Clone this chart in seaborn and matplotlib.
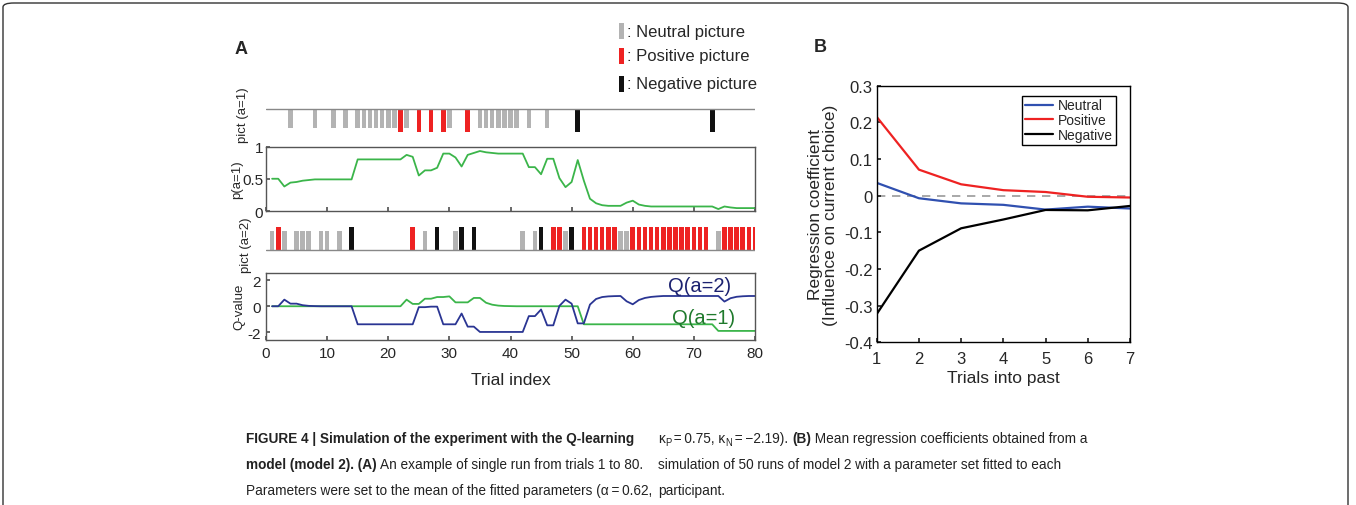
import numpy as np
import pandas as pd
import matplotlib
matplotlib.use("Agg")
import matplotlib.pyplot as plt
from matplotlib.patches import Rectangle, FancyBboxPatch
import seaborn as sns

#########################
## data
trials = list(range(1, 81))

# trials where a=1 / a=2 was chosen and the picture shown (N=neutral, P=positive, K=negative)
pict_a1_trials = [4, 8, 11, 13, 15, 16, 17, 18, 19, 20, 21, 22, 23, 25, 27, 29, 30, 33,
                  35, 36, 37, 38, 39, 40, 41, 43, 46, 51, 73]
pict_a1_kind = ['N', 'N', 'N', 'N', 'N', 'N', 'N', 'N', 'N', 'N', 'N', 'P', 'N', 'P', 'P', 'P', 'N', 'P',
                'N', 'N', 'N', 'N', 'N', 'N', 'N', 'N', 'N', 'K', 'K']

pict_a2_trials = [1, 2, 3, 5, 6, 7, 9, 10, 12, 14, 24, 26, 28, 31, 32, 34, 42, 44, 45, 47, 48, 49, 50,
                  52, 53, 54, 55, 56, 57, 58, 59, 60, 61, 62, 63, 64, 65, 66, 67, 68, 69, 70, 71, 72,
                  74, 75, 76, 77, 78, 79, 80]
pict_a2_kind = ['N', 'P', 'N', 'N', 'N', 'N', 'N', 'N', 'N', 'K', 'P', 'N', 'K', 'N', 'K', 'K', 'N', 'N', 'K', 'P', 'P', 'N', 'K',
                'P', 'P', 'P', 'P', 'P', 'P', 'N', 'N', 'P', 'P', 'P', 'P', 'P', 'P', 'P', 'P', 'P', 'P', 'P', 'P', 'P',
                'N', 'P', 'P', 'P', 'P', 'P', 'P']

p_a1 = [0.50, 0.50, 0.38, 0.44, 0.45, 0.47, 0.48, 0.49, 0.49, 0.49,
        0.49, 0.49, 0.49, 0.49, 0.80, 0.80, 0.80, 0.80, 0.80, 0.80,
        0.80, 0.80, 0.87, 0.84, 0.55, 0.63, 0.63, 0.67, 0.89, 0.89,
        0.83, 0.69, 0.87, 0.90, 0.93, 0.91, 0.90, 0.89, 0.89, 0.89,
        0.89, 0.89, 0.68, 0.68, 0.57, 0.81, 0.81, 0.51, 0.37, 0.45,
        0.79, 0.47, 0.19, 0.12, 0.09, 0.08, 0.08, 0.08, 0.13, 0.16,
        0.10, 0.08, 0.07, 0.07, 0.07, 0.07, 0.07, 0.07, 0.07, 0.07,
        0.07, 0.07, 0.07, 0.03, 0.07, 0.055, 0.045, 0.045, 0.045, 0.045]

q_a1 = [0, 0, 0, 0, 0, 0, 0, 0, 0, 0,
        0, 0, 0, 0, 0, 0, 0, 0, 0, 0,
        0, 0, 0.51, 0.18, 0.18, 0.58, 0.58, 0.71, 0.71, 0.76,
        0.30, 0.30, 0.30, 0.64, 0.64, 0.27, 0.12, 0.05, 0.02, 0.01,
        0, 0, 0, 0, 0, 0, 0, 0, 0, 0,
        0, -1.39, -1.39, -1.39, -1.39, -1.39, -1.39, -1.39, -1.39, -1.39,
        -1.39, -1.39, -1.39, -1.39, -1.39, -1.39, -1.39, -1.39, -1.39, -1.39,
        -1.39, -1.39, -1.39, -1.90, -1.90, -1.90, -1.90, -1.90, -1.90, -1.90]

q_a2 = [0, 0, 0.51, 0.20, 0.20, 0.08, 0.03, 0.01, 0, 0,
        0, 0, 0, 0, -1.39, -1.39, -1.39, -1.39, -1.39, -1.39,
        -1.39, -1.39, -1.39, -1.39, -0.07, -0.07, -0.03, -0.03, -1.39, -1.39,
        -1.39, -0.56, -1.57, -1.57, -1.98, -1.98, -1.98, -1.98, -1.98, -1.98,
        -1.98, -1.98, -0.76, -0.76, -0.25, -1.47, -1.47, 0.03, 0.51, 0.20,
        -1.32, -1.32, 0.13, 0.56, 0.71, 0.76, 0.78, 0.79, 0.38, 0.15,
        0.48, 0.64, 0.72, 0.76, 0.79, 0.79, 0.79, 0.79, 0.79, 0.79,
        0.79, 0.79, 0.79, 0.79, 0.36, 0.62, 0.73, 0.77, 0.79, 0.79]

# panel B
lags = [1, 2, 3, 4, 5, 6, 7]
coef_neutral = [0.035, -0.007, -0.021, -0.025, -0.038, -0.030, -0.035]
coef_positive = [0.215, 0.071, 0.031, 0.015, 0.010, -0.003, -0.005]
coef_negative = [-0.323, -0.150, -0.089, -0.065, -0.039, -0.040, -0.028]

#########################
## style
sns.set_theme(style="ticks")
plt.rcParams['font.family'] = ['Liberation Sans', 'DejaVu Sans']
plt.rcParams['axes.linewidth'] = 1.0
cap_font = ['Liberation Sans', 'DejaVu Sans']

W, H = 1356, 506
pict_colors = {'N': '#b3b3b3', 'P': '#ee2222', 'K': '#111111'}
green = '#3bb54a'
navy = '#2a3593'


def fx(px):
    return px / W


def fy(py):
    return 1 - py / H


def ax_rect(x0, y0, x1, y1):
    return [fx(x0), fy(y1), fx(x1) - fx(x0), (y1 - y0) / H]


fig = plt.figure(figsize=(W / 100, H / 100), dpi=100)

# outer frame
frame = FancyBboxPatch((fx(3), fy(530)), fx(1348) - fx(3), (530 - 4) / H,
                       boxstyle="round,pad=0,rounding_size=0.008", transform=fig.transFigure,
                       fill=False, edgecolor='#333333', linewidth=1.0)
fig.patches.append(frame)

#########################
## panel A
# pict (a=1)
ax1 = fig.add_axes(ax_rect(266, 100, 755, 140))
h1 = [-1.15 if k != 'N' else -0.95 for k in pict_a1_kind]
ax1.bar(pict_a1_trials, h1, width=0.75, color=[pict_colors[k] for k in pict_a1_kind], linewidth=0)
ax1.axhline(0, color='#888888', lw=1.0)
ax1.set_xlim(0, 80)
ax1.set_ylim(-1.5, 0.5)
ax1.axis('off')

# p(a=1)
axP = fig.add_axes(ax_rect(266, 147.5, 755, 212))
sns.lineplot(x=trials, y=p_a1, color=green, lw=1.3, ax=axP)
axP.set_xlim(0, 80)
axP.set_ylim(0, 1)
axP.set_xticks(range(0, 81, 10))
axP.set_xticklabels([])
axP.set_yticks([0, 0.5, 1])
axP.set_yticklabels(['0', '0.5', '1'])
axP.tick_params(direction='in', length=3, labelsize=11, pad=2, color='#555555')

# pict (a=2)
ax2 = fig.add_axes(ax_rect(266, 220, 755, 260))
h2 = [1.15 if k != 'N' else 0.95 for k in pict_a2_kind]
ax2.bar(pict_a2_trials, h2, width=0.75, color=[pict_colors[k] for k in pict_a2_kind], linewidth=0)
ax2.axhline(0, color='#888888', lw=1.0)
ax2.set_xlim(0, 80)
ax2.set_ylim(-0.45, 1.55)
ax2.axis('off')

# Q-values
axQ = fig.add_axes(ax_rect(266, 273.5, 755, 341))
sns.lineplot(x=trials, y=q_a1, color=green, lw=1.3, ax=axQ)
sns.lineplot(x=trials, y=q_a2, color=navy, lw=1.3, ax=axQ)
axQ.set_xlim(0, 80)
axQ.set_ylim(-2.6, 2.6)
axQ.set_xticks(range(0, 81, 10))
axQ.set_yticks([-2, 0, 2])
axQ.set_yticklabels(['-2', '0', '2'])
axQ.tick_params(direction='in', length=3, labelsize=11, pad=4, color='#555555')
axQ.set_xlabel('Trial index', fontsize=12.5, labelpad=9)
axQ.text(71.0, 1.57, 'Q(a=2)', color='#1c2270', fontsize=14.5, ha='center', va='center')
axQ.text(71.6, -0.86, 'Q(a=1)', color='#1f7a2c', fontsize=14.5, ha='center', va='center')

for a in (axP, axQ):
    for s in a.spines.values():
        s.set_color('#555555')
        s.set_linewidth(1.0)

fig.text(fx(243), fy(115), 'pict (a=1)', rotation=90, ha='center', va='center', fontsize=9.5)
fig.text(fx(237), fy(180), 'p(a=1)', rotation=90, ha='center', va='center', fontsize=9.5)
fig.text(fx(246), fy(245), 'pict (a=2)', rotation=90, ha='center', va='center', fontsize=9.5)
fig.text(fx(239), fy(307), 'Q-value', rotation=90, ha='center', va='center', fontsize=9.5)

fig.text(fx(241), fy(50), 'A', fontsize=13, fontweight='bold', ha='center', va='center')
fig.text(fx(820), fy(48), 'B', fontsize=13, fontweight='bold', ha='center', va='center')

# picture legend
for yc, k, lab in [(32, 'N', ': Neutral picture'), (57, 'P', ': Positive picture'), (85, 'K', ': Negative picture')]:
    fig.patches.append(Rectangle((fx(619), fy(yc + 8)), 5 / W, 16 / H, transform=fig.transFigure,
                                 color=pict_colors[k], linewidth=0))
    fig.text(fx(627), fy(yc), lab, fontsize=12, ha='left', va='center')

#########################
## panel B
axB = fig.add_axes(ax_rect(876.7, 86.7, 1130, 343.3))
df_b = pd.DataFrame({'lag': lags * 3,
                     'coef': coef_neutral + coef_positive + coef_negative,
                     'type': ['Neutral'] * 7 + ['Positive'] * 7 + ['Negative'] * 7})
sns.lineplot(data=df_b, x='lag', y='coef', hue='type',
             palette={'Neutral': '#3050b0', 'Positive': '#ee2222', 'Negative': '#000000'},
             lw=1.6, ax=axB)
axB.axhline(0, color='#999999', lw=1.2, ls=(0, (5, 4)), zorder=0)
axB.set_xlim(1, 7)
axB.set_ylim(-0.4, 0.3)
axB.set_xticks(lags)
axB.set_yticks(np.round(np.arange(-0.4, 0.31, 0.1), 1))
axB.set_yticklabels(['-0.4', '-0.3', '-0.2', '-0.1', '0', '0.1', '0.2', '0.3'])
axB.tick_params(direction='in', length=3, labelsize=12, pad=3)
axB.tick_params(axis='x', pad=6)
axB.set_xlabel('Trials into past', fontsize=12.5, labelpad=3)
axB.set_ylabel('Regression coefficient\n(Influence on current choice)', fontsize=12.5, labelpad=4,
               linespacing=1.0)
for s in axB.spines.values():
    s.set_color('#000000')
    s.set_linewidth(1.0)
leg = axB.legend(loc='upper right', bbox_to_anchor=(1 - 14 / 253.3, 1 - 10 / 256.6), fontsize=10,
                 frameon=True, fancybox=False, edgecolor='black', framealpha=1, borderpad=0.2,
                 labelspacing=0.05, handlelength=2.0, handletextpad=0.4, borderaxespad=0)
leg.get_frame().set_linewidth(1.0)

#########################
## caption
renderer = fig.canvas.get_renderer()


def draw_segments(x0, ybase, segments, size):
    x = x0
    for seg in segments:
        txt, weight = seg[0], seg[1]
        sub = len(seg) > 2 and seg[2]
        s = size * 0.7 if sub else size
        yy = ybase + (3 if sub else 0)
        t = fig.text(fx(x), fy(yy), txt, fontsize=s, fontweight=weight, family=cap_font,
                     ha='left', va='baseline', color='#222222')
        x += t.get_window_extent(renderer).width


cap_size = 9.8
draw_segments(246, 443, [('FIGURE 4 | Simulation of the experiment with the Q-learning', 'bold')], cap_size)
draw_segments(246, 469, [('model (model 2). (A)', 'bold'),
                         (' An example of single run from trials 1 to 80.', 'normal')], cap_size)
draw_segments(246, 495, [('Parameters were set to the mean of the fitted parameters (\u03b1\u2009=\u20090.62,', 'normal')],
              cap_size)
draw_segments(658, 443, [('\u03ba', 'normal'), ('P', 'normal', True), ('\u2009=\u20090.75, \u03ba', 'normal'),
                         ('N', 'normal', True), ('\u2009=\u2009\u22122.19). ', 'normal'), ('(B)', 'bold'),
                         (' Mean regression coefficients obtained from a', 'normal')], cap_size)
draw_segments(658, 469, [('simulation of 50 runs of model 2 with a parameter set fitted to each', 'normal')],
              cap_size)
draw_segments(658, 495, [('participant.', 'normal')], cap_size)

fig.savefig('out.png', dpi=100)
